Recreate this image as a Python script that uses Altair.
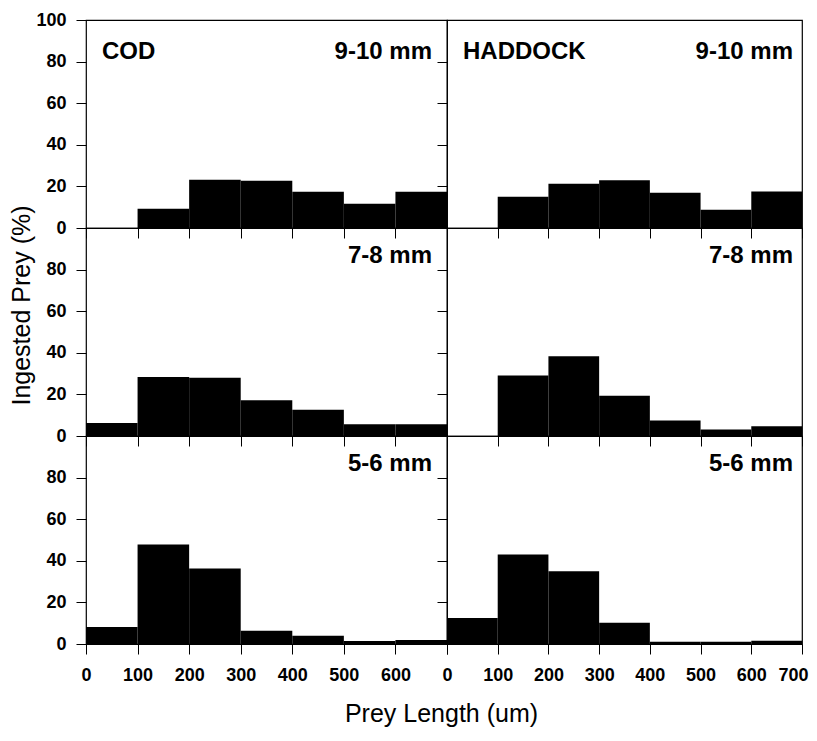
import altair as alt
import pandas as pd

# ---- data ----
bin_start = [0, 100, 200, 300, 400, 500, 600]
bin_end = [100, 200, 300, 400, 500, 600, 700]

cod_9_10 = [0.0, 9.3, 23.2, 22.7, 17.4, 11.7, 17.4]
had_9_10 = [0.0, 15.0, 21.3, 23.0, 17.0, 8.8, 17.5]
cod_7_8 = [6.2, 28.4, 28.0, 17.2, 12.6, 5.6, 5.6]
had_7_8 = [0.0, 29.1, 38.4, 19.4, 7.4, 3.1, 4.7]
cod_5_6 = [8.2, 47.8, 36.3, 6.4, 4.0, 1.4, 1.9]
had_5_6 = [12.5, 43.0, 35.0, 10.2, 1.1, 1.1, 1.6]

species = ["COD", "HADDOCK"]
size_classes = ["9-10 mm", "7-8 mm", "5-6 mm"]
x_ticks = [0, 100, 200, 300, 400, 500, 600, 700]
y_ticks_top = [0, 20, 40, 60, 80, 100]
y_ticks_low = [0, 20, 40, 60, 80]

grid_values = [[cod_9_10, had_9_10], [cod_7_8, had_7_8], [cod_5_6, had_5_6]]

FONT = "Liberation Sans"
PANEL_W = [361, 355]
PANEL_H = 208


def panel(vals, row, col):
    df = pd.DataFrame({"start": bin_start, "end": bin_end, "pct": vals})
    bottom = row == 2
    xaxis_kw = dict(
        values=x_ticks, tickSize=10, grid=False, domain=False,
        tickColor="black", labels=bottom, labelFont=FONT, labelFontSize=18,
        labelFontWeight="bold", labelColor="black", labelPadding=12,
        labelFlush=False, labelOverlap=False,
    )
    if bottom and col == 0:
        xaxis_kw["labelExpr"] = "datum.value == 700 ? '' : datum.label"
        xaxis_kw.update(
            title="Prey Length (um)", titleFont=FONT, titleFontSize=25,
            titleFontWeight="normal", titleColor="black",
            titleX=355, titleY=77, titleAlign="center",
            titleBaseline="alphabetic",
        )
    else:
        xaxis_kw["title"] = None
    if bottom and col == 1:
        xaxis_kw["labelOffset"] = {
            "condition": {"test": "datum.value === 700", "value": -9},
            "value": 0,
        }

    yaxis_kw = dict(
        values=y_ticks_top if row == 0 else y_ticks_low, tickSize=10,
        grid=False, domain=False, tickColor="black", labels=(col == 0),
        labelFont=FONT, labelFontSize=18, labelFontWeight="bold",
        labelColor="black", labelPadding=10, labelFlush=False,
        labelOverlap=False,
    )
    if row == 1 and col == 0:
        yaxis_kw.update(
            title="Ingested Prey (%)", titleFont=FONT, titleFontSize=25,
            titleFontWeight="normal", titleColor="black", titleAngle=-90,
            titleX=-57, titleY=77, titleAlign="center",
            titleBaseline="alphabetic",
        )
    else:
        yaxis_kw["title"] = None

    xscale = alt.Scale(domain=[0, 700], nice=False, zero=False)
    yscale = alt.Scale(domain=[0, 100], nice=False)

    bars = alt.Chart(df).mark_rect(color="black").encode(
        x=alt.X("start:Q", scale=xscale, axis=alt.Axis(**xaxis_kw)),
        x2="end:Q",
        y=alt.Y("pct:Q", scale=yscale, axis=alt.Axis(**yaxis_kw)),
        y2=alt.datum(0),
    )

    dy = 39 if row == 0 else 35
    dx = -15 if col == 0 else -9
    size_lbl = alt.Chart(pd.DataFrame({"t": [size_classes[row]]})).mark_text(
        align="right", baseline="alphabetic", dx=dx, dy=dy, font=FONT,
        fontSize=24, fontWeight="bold", color="black",
    ).encode(x=alt.datum(700), y=alt.datum(100), text="t:N")

    layers = [bars, size_lbl]
    if row == 0:
        sp_lbl = alt.Chart(pd.DataFrame({"t": [species[col]]})).mark_text(
            align="left", baseline="alphabetic", dx=16, dy=39, font=FONT,
            fontSize=24, fontWeight="bold", color="black",
        ).encode(x=alt.datum(0), y=alt.datum(100), text="t:N")
        layers.append(sp_lbl)

    return alt.layer(*layers).properties(width=PANEL_W[col], height=PANEL_H)


panels = []
for r in range(3):
    for c in range(2):
        panels.append(panel(grid_values[r][c], r, c))

chart = alt.concat(*panels, columns=2, spacing=0, bounds="flush").properties(
    padding={"left": 0, "top": 2, "right": 0, "bottom": 0}
).configure(background="white").configure_view(
    stroke="black", strokeWidth=1.2
)

chart.save("out.html", embed_options={"renderer": "svg", "actions": False})
